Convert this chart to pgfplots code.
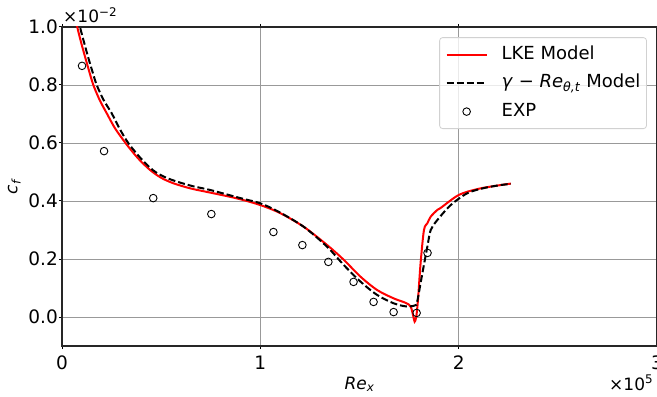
\documentclass[border=0pt]{standalone}
\usepackage{fontspec}
\setmainfont{DejaVu Sans}
\usepackage{pgfplots}
\pgfplotsset{compat=1.18}
\pgfplotsset{circlelegend/.style={legend image code/.code={\draw[mark repeat=2, mark phase=2, ##1] plot coordinates {(0pt,0pt) (20pt,0pt) (40pt,0pt)};}}}
\begin{document}
\fontsize{18}{21}\selectfont
\begin{tikzpicture}
\begin{axis}[name=ax,
  width=595pt, height=319pt, scale only axis,
  xmin=0, xmax=3, ymin=-0.1, ymax=1.0,
  xtick={0,1,2,3}, ytick={0,0.2,0.4,0.6,0.8,1.0},
  xticklabels={0,1,2,3},
  yticklabels={0.0,0.2,0.4,0.6,0.8,1.0},
  yticklabel style={xshift=5pt},
  ticklabel style={font=\fontsize{18.5}{21}\selectfont},
  xticklabel style={yshift=-1pt},
  scaled ticks=false,
  tick align=outside, major tick length=3pt,
  tick style={black, line width=1pt},
  axis line style={line width=1.2pt, black!85},
  grid=major, grid style={black!40, line width=0.8pt},
  legend cell align=left,
  legend style={at={(0.983,0.968)}, anchor=north east, draw=black!18, rounded corners=3pt,
    fill=white, fill opacity=0.8, text opacity=1, line width=0.8pt,
    nodes={inner sep=0pt, text height=13pt, text depth=4pt},
    row sep=11.5pt, inner xsep=6pt, inner ysep=8.5pt,
    font=\fontsize{18}{21}\selectfont,
    /tikz/every odd column/.style={column sep=14pt}},
  legend image code/.code={\draw[#1] (0pt,0pt) -- (40pt,0pt);},
]
\addplot[red, line width=2pt, smooth, tension=0.5] coordinates {
(0.072,1.03) (0.077,1.0) (0.097,0.945) (0.118,0.893) (0.138,0.845) (0.158,0.800) (0.190,0.748) (0.226,0.702) (0.268,0.650) (0.327,0.594)
(0.385,0.546) (0.444,0.507) (0.500,0.480) (0.562,0.461) (0.650,0.443) (0.747,0.429) (0.882,0.409) (1.0,0.386) (1.101,0.358)
(1.219,0.311) (1.337,0.248) (1.421,0.197) (1.505,0.139) (1.589,0.093) (1.673,0.064)
(1.732,0.049) (1.758,0.036) (1.772,0.000) (1.778,-0.016) (1.786,0.000) (1.795,0.060) (1.808,0.186)
(1.825,0.300) (1.842,0.323) (1.859,0.346) (1.892,0.369) (1.909,0.376)
(2.001,0.421) (2.10,0.442) (2.212,0.455) (2.263,0.460)
};
\addlegendentry{LKE Model}
\addplot[black, line width=2pt, dash pattern=on 7pt off 3pt, smooth, tension=0.5] coordinates {
(0.086,1.03) (0.091,1.0) (0.112,0.945) (0.133,0.893) (0.154,0.845) (0.175,0.800) (0.210,0.748) (0.251,0.702) (0.290,0.650) (0.335,0.599)
(0.400,0.545) (0.461,0.505) (0.520,0.482) (0.579,0.467) (0.660,0.451) (0.747,0.438) (0.899,0.410) (1.0,0.392) (1.092,0.363)
(1.219,0.311) (1.337,0.242) (1.421,0.179) (1.505,0.122) (1.589,0.076) (1.673,0.047)
(1.741,0.036) (1.783,0.041) (1.791,0.053) (1.817,0.151) (1.842,0.242) (1.859,0.300)
(1.892,0.334) (1.960,0.386) (2.044,0.427) (2.13,0.445) (2.212,0.455) (2.263,0.459)
};
\addlegendentry{\textit{γ} − \textit{Re}\textsubscript{\textit{θ,t}} Model}
\addplot[only marks, mark=o, mark size=3.8pt, black, line width=0.9pt, circlelegend]
coordinates {
(0.101,0.866) (0.212,0.572) (0.460,0.410) (0.753,0.355) (1.066,0.293) (1.212,0.248)
(1.343,0.190) (1.470,0.121) (1.571,0.052) (1.672,0.017) (1.788,0.014) (1.843,0.221)
};
\addlegendentry{EXP}
\end{axis}
\node[anchor=base, font=\fontsize{17}{20}\selectfont] at ([yshift=-43pt]ax.south) {\textit{Re}\textsubscript{\textit{x}}};
\node[rotate=90, anchor=base, font=\fontsize{17}{20}\selectfont] at ([xshift=-44.5pt]ax.west) {\textit{c}\textsubscript{\textit{f}}};
\node[anchor=base west, inner sep=0pt, font=\fontsize{17}{20}\selectfont] at ([xshift=-48pt,yshift=-44pt]ax.south east) {×10\textsuperscript{5}};
\node[anchor=base west, inner sep=0pt, font=\fontsize{17}{20}\selectfont] at ([xshift=1pt,yshift=4pt]ax.north west) {×10\textsuperscript{−2}};
\pgfresetboundingbox
\path[use as bounding box] ([xshift=-62pt,yshift=-50pt]ax.south west) rectangle ([yshift=27pt]ax.north east);
\end{tikzpicture}
\end{document}
